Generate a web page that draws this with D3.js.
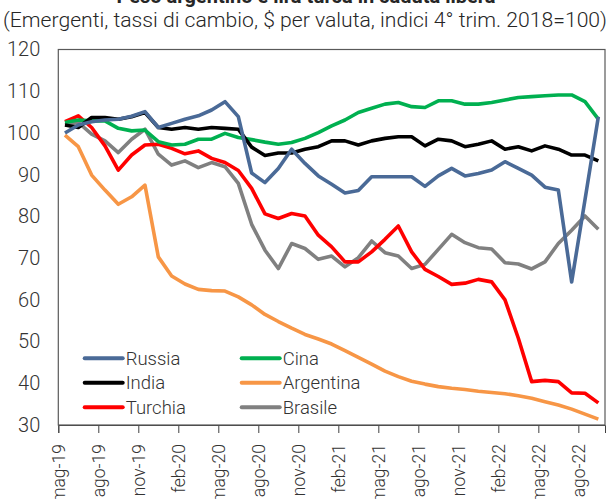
<!DOCTYPE html>
<html>
<head>
<meta charset="utf-8">
<script src="https://cdn.jsdelivr.net/npm/d3@7"></script>
<style>
  body { margin: 0; background: #fff; }
  svg { display: block; font-family: Roboto, "Noto Sans", sans-serif; font-weight: 300; }
</style>
</head>
<body>
<svg id="chart" width="612" height="499"></svg>
<script>
// mesi (maggio 2019 - settembre 2022)
const months = [
  'mag-19', 'giu-19', 'lug-19', 'ago-19', 'set-19', 'ott-19', 'nov-19', 'dic-19',
  'gen-20', 'feb-20', 'mar-20', 'apr-20', 'mag-20', 'giu-20', 'lug-20', 'ago-20',
  'set-20', 'ott-20', 'nov-20', 'dic-20', 'gen-21', 'feb-21', 'mar-21', 'apr-21',
  'mag-21', 'giu-21', 'lug-21', 'ago-21', 'set-21', 'ott-21', 'nov-21', 'dic-21',
  'gen-22', 'feb-22', 'mar-22', 'apr-22', 'mag-22', 'giu-22', 'lug-22', 'ago-22',
  'set-22'
];

const russia = [
  100.0, 101.9, 102.7, 103.1, 103.3, 104.0, 105.1, 101.3, 102.3, 103.3,
  104.1, 105.5, 107.5, 103.9, 90.4, 88.1, 91.5, 96.1, 92.7, 89.7,
  87.7, 85.6, 86.2, 89.5, 89.5, 89.5, 89.5, 87.2, 89.7, 91.5,
  89.7, 90.3, 91.1, 93.1, 91.5, 89.9, 87.0, 86.3, 64.3, 84.0,
  103.9
];
const cina = [
  102.5, 103.1, 102.9, 102.9, 101.1, 100.5, 100.7, 97.9, 97.1, 97.3,
  98.5, 98.5, 99.9, 98.9, 98.4, 97.8, 97.3, 97.7, 98.7, 100.1,
  101.7, 103.1, 104.9, 105.9, 106.9, 107.3, 106.3, 106.1, 107.7, 107.7,
  106.9, 106.9, 107.3, 107.9, 108.5, 108.7, 108.9, 109.1, 109.1, 107.5,
  103.3
];
const india = [
  101.9, 101.3, 103.7, 103.7, 103.3, 103.9, 104.9, 101.3, 100.9, 101.3,
  100.9, 101.3, 101.1, 100.9, 96.6, 94.6, 95.2, 95.2, 96.1, 96.7,
  98.1, 98.1, 97.1, 98.1, 98.7, 99.1, 99.1, 96.9, 98.5, 98.1,
  96.7, 97.3, 98.1, 96.1, 96.7, 95.7, 96.9, 96.1, 94.7, 94.7,
  93.3
];
const argentina = [
  99.5, 96.7, 89.9, 86.3, 82.9, 84.7, 87.5, 70.3, 65.7, 63.8,
  62.5, 62.2, 62.1, 60.7, 58.8, 56.5, 54.8, 53.2, 51.7, 50.6,
  49.4, 47.8, 46.2, 44.6, 42.9, 41.6, 40.5, 39.8, 39.2, 38.8,
  38.5, 38.1, 37.8, 37.5, 37.0, 36.4, 35.6, 34.8, 33.8, 32.6,
  31.4
];
const turchia = [
  102.7, 104.1, 101.3, 96.9, 91.1, 94.7, 97.1, 97.3, 96.3, 95.0,
  95.7, 93.9, 92.9, 91.0, 86.7, 80.6, 79.5, 80.7, 80.1, 75.5,
  72.7, 69.1, 69.1, 71.5, 74.5, 77.7, 71.5, 67.3, 65.6, 63.7,
  64.0, 64.9, 64.3, 60.0, 50.8, 40.4, 40.7, 40.4, 37.7, 37.6,
  35.3
];
const brasile = [
  101.9, 102.5, 99.7, 98.1, 95.3, 98.5, 100.9, 94.9, 92.3, 93.3,
  91.7, 92.9, 91.9, 87.9, 78.1, 71.9, 67.5, 73.5, 72.3, 69.7,
  70.5, 67.9, 70.1, 74.1, 71.3, 70.5, 67.5, 68.5, 72.1, 75.7,
  73.7, 72.5, 72.2, 68.9, 68.6, 67.4, 69.1, 73.5, 76.7, 80.1,
  76.9
];

const yTicks = [30, 40, 50, 60, 70, 80, 90, 100, 110, 120];
const xTickIndex = [0, 3, 6, 9, 12, 15, 18, 21, 24, 27, 30, 33, 36, 39];

const series = [
  {name: 'Russia', values: russia, color: '#4a6a97'},
  {name: 'Cina', values: cina, color: '#00b050'},
  {name: 'India', values: india, color: '#000000'},
  {name: 'Argentina', values: argentina, color: '#f79646'},
  {name: 'Turchia', values: turchia, color: '#ff0000'},
  {name: 'Brasile', values: brasile, color: '#808080'}
];

let margin = {top: 49.5, left: 58.3, right: 605, bottom: 425};

let svg = d3.select('#chart');

// titolo (tagliato in alto come nell'originale)
svg.append('text')
  .attr('x', 306).attr('y', 3)
  .attr('text-anchor', 'middle')
  .style('font-size', '20px').style('font-weight', 'bold')
  .attr('fill', '#262626')
  .text('Peso argentino e lira turca in caduta libera');

svg.append('text')
  .attr('x', 305).attr('y', 27)
  .attr('text-anchor', 'middle')
  .attr('textLength', 604)
  .attr('lengthAdjust', 'spacingAndGlyphs')
  .style('font-size', '20px')
  .attr('fill', '#262626')
  .text('(Emergenti, tassi di cambio, $ per valuta, indici 4° trim. 2018=100)');

let xScale = d3.scaleLinear()
  .domain([0, months.length])
  .range([margin.left, margin.right]);

let yScale = d3.scaleLinear()
  .domain([30, 120])
  .range([margin.bottom, margin.top]);

// y labels
let yAxis = d3.axisLeft(yScale).tickValues(yTicks).tickSize(0).tickPadding(18);
let yg = svg.append('g')
  .attr('transform', 'translate(' + margin.left + ',0)')
  .call(yAxis);
yg.select('.domain').remove();
yg.selectAll('text')
  .style('font-size', '20px')
  .style('font-family', 'Roboto, sans-serif')
  .style('font-weight', 300)
  .attr('fill', '#333');

// x axis
let xAxis = d3.axisBottom(xScale)
  .tickValues(xTickIndex)
  .tickSize(8)
  .tickFormat(function (i) { return months[i]; });
let xg = svg.append('g')
  .attr('transform', 'translate(0,' + margin.bottom + ')')
  .call(xAxis);
xg.select('.domain').attr('stroke', '#404040');
xg.selectAll('.tick line').attr('stroke', '#404040');
xg.selectAll('text')
  .style('font-size', '17.5px')
  .style('font-family', 'Roboto, sans-serif')
  .style('font-weight', 300)
  .attr('fill', '#333')
  .attr('text-anchor', 'end')
  .attr('transform', 'rotate(-90)')
  .attr('x', -19)
  .attr('y', 0)
  .attr('dy', '0.35em');

// cornice
svg.append('rect')
  .attr('x', margin.left).attr('y', margin.top)
  .attr('width', margin.right - margin.left)
  .attr('height', margin.bottom - margin.top)
  .attr('fill', 'none')
  .attr('stroke', '#595959')
  .attr('stroke-width', 1.2);

let line = d3.line()
  .x(function (d, i) { return xScale(i + 0.5); })
  .y(function (d) { return yScale(d); });

// ordine di disegno
let order = ['Argentina', 'Brasile', 'Turchia', 'Cina', 'India', 'Russia'];
order.forEach(function (name) {
  let s = series.find(function (d) { return d.name === name; });
  svg.append('path')
    .datum(s.values)
    .attr('fill', 'none')
    .attr('stroke', s.color)
    .attr('stroke-width', 3.6)
    .attr('stroke-linejoin', 'round')
    .attr('d', line);
});

// legenda
let legendCols = [84.7, 241.7];
let legendRows = [358.3, 382.7, 407.3];
series.forEach(function (s, i) {
  let lx = legendCols[i % 2];
  let ly = legendRows[Math.floor(i / 2)];
  svg.append('line')
    .attr('x1', lx).attr('x2', lx + 38)
    .attr('y1', ly).attr('y2', ly)
    .attr('stroke', s.color)
    .attr('stroke-width', 4)
    .attr('stroke-linecap', 'round');
  svg.append('text')
    .attr('x', lx + 41).attr('y', ly)
    .attr('dy', '0.35em')
    .style('font-size', '18.5px')
    .attr('fill', '#333')
    .text(s.name);
});
</script>
</body>
</html>
